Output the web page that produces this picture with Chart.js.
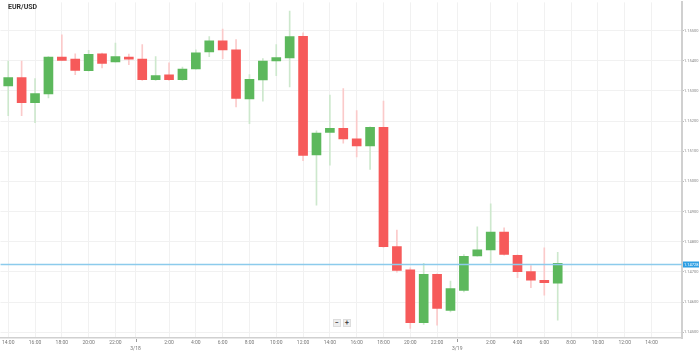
<!DOCTYPE html>
<html>
<head>
<meta charset="utf-8">
<script src="https://cdn.jsdelivr.net/npm/chart.js@4.4.1/dist/chart.umd.min.js"></script>
<style>
  html,body{margin:0;padding:0;background:#fff;}
  #wrap{position:relative;width:699px;height:352px;}
  #title{position:absolute;left:8px;top:3px;font:bold 7px Roboto,'DejaVu Sans',sans-serif;color:#333;}
  .zbtn{position:absolute;top:319px;width:8px;height:8px;background:#eee;border:1px solid #ddd;
        font:bold 7px Roboto,sans-serif;color:#444;text-align:center;line-height:7px;box-sizing:border-box;}
</style>
</head>
<body>
<div id="wrap">
  <canvas id="c" width="699" height="352"></canvas>
  <div id="title">EUR/USD</div>
  <div class="zbtn" style="left:333px">−</div>
  <div class="zbtn" style="left:343px">+</div>
</div>
<script>
// ── DATA (hourly candles from 14:00 3/17) ─────────────
const OPEN  = [1.15316,1.15344,1.15261,1.15290,1.15412,1.15405,1.15367,1.15423,1.15396,1.15412,1.15405,1.15337,1.15353,1.15337,1.15373,1.15429,1.15466,1.15436,1.15273,1.15336,1.15399,1.15409,1.15481,1.15088,1.15162,1.15176,1.15141,1.15118,1.15179,1.14784,1.14707,1.14532,1.14692,1.14573,1.14639,1.14753,1.14773,1.14832,1.14755,1.14701,1.14672,1.14663];
const CLOSE = [1.15344,1.15261,1.15291,1.15412,1.15401,1.15368,1.15421,1.15391,1.15414,1.15405,1.15337,1.15351,1.15337,1.15372,1.15426,1.15466,1.15436,1.15275,1.15338,1.15399,1.15410,1.15480,1.15086,1.15160,1.15176,1.15141,1.15118,1.15179,1.14784,1.14705,1.14532,1.14692,1.14579,1.14645,1.14752,1.14773,1.14832,1.14758,1.14701,1.14673,1.14665,1.14729];
const HIGH  = [1.15399,1.15399,1.15341,1.15414,1.15486,1.15423,1.15434,1.15425,1.15458,1.15422,1.15453,1.15414,1.15393,1.15379,1.15436,1.15480,1.15505,1.15470,1.15354,1.15407,1.15453,1.15564,1.15492,1.15168,1.15286,1.15308,1.15235,1.15181,1.15266,1.14839,1.14714,1.14729,1.14694,1.14670,1.14758,1.14850,1.14926,1.14846,1.14757,1.14721,1.14780,1.14765];
const LOW   = [1.15218,1.15218,1.15195,1.15277,1.15401,1.15354,1.15365,1.15376,1.15395,1.15387,1.15335,1.15335,1.15335,1.15335,1.15372,1.15413,1.15407,1.15247,1.15191,1.15266,1.15350,1.15313,1.15069,1.14921,1.15054,1.15127,1.15081,1.15040,1.14781,1.14699,1.14513,1.14526,1.14524,1.14568,1.14634,1.14752,1.14731,1.14756,1.14681,1.14648,1.14623,1.14540];
const CURRENT = 1.14728;

const X_TICKS  = [0,2,4,6,8,9.5,12,14,16,18,20,22,24,26,28,30,32,33.5,36,38,40,42,44,46,48];
const X_LABELS = ['14:00','16:00','18:00','20:00','22:00','3/18','2:00','4:00','6:00','8:00','10:00','12:00',
                  '14:00','16:00','18:00','20:00','22:00','3/19','2:00','4:00','6:00','8:00','10:00','12:00','14:00'];
const DATE_TICKS = ['3/18','3/19'];
const Y_TICKS  = [1.145,1.146,1.147,1.148,1.149,1.150,1.151,1.152,1.153,1.154,1.155];

const RED = '#f65a5a', GREEN = '#5cb85c';
const RED_W = '#fbcaca', GREEN_W = '#cde8cd';
const up = OPEN.map((o,i) => CLOSE[i] >= o);

const bodies = OPEN.map((o,i) => ({x:i, y:[o, CLOSE[i]]}));
const wicks  = OPEN.map((o,i) => ({x:i, y:[LOW[i], HIGH[i]]}));

// current price line + tag, date tick marks
const overlay = {
  id:'overlay',
  afterDatasetsDraw(chart){
    const {ctx, chartArea:a, scales:{x,y}} = chart;
    const py = Math.round(y.getPixelForValue(CURRENT)) + 0.5;
    ctx.save();
    ctx.strokeStyle = '#8ccbec'; ctx.lineWidth = 1.5;
    ctx.beginPath(); ctx.moveTo(a.left, py); ctx.lineTo(a.right, py); ctx.stroke();
    ctx.fillStyle = '#2f9fe3';
    ctx.fillRect(a.right + 1, py - 3, 16, 6);
    ctx.fillStyle = '#fff'; ctx.font = '4px Roboto, sans-serif';
    ctx.textBaseline = 'middle'; ctx.textAlign = 'left';
    ctx.fillText(CURRENT.toFixed(5), a.right + 2, py);
    ctx.strokeStyle = '#999'; ctx.lineWidth = 1;
    X_TICKS.forEach((t,k) => {
      if (!DATE_TICKS.includes(X_LABELS[k])) return;
      const px = Math.round(x.getPixelForValue(t)) + 0.5;
      ctx.beginPath(); ctx.moveTo(px, a.bottom + 1); ctx.lineTo(px, a.bottom + 4); ctx.stroke();
    });
    ctx.restore();
  }
};

new Chart(document.getElementById('c'), {
  type:'bar',
  data:{
    datasets:[
      { data:wicks, backgroundColor:up.map(u => u ? GREEN_W : RED_W), barThickness:1, order:2 },
      { data:bodies, backgroundColor:up.map(u => u ? GREEN : RED), barThickness:9, order:1 }
    ]
  },
  options:{
    responsive:false, animation:false,
    layout:{padding:0},
    plugins:{legend:{display:false}, tooltip:{enabled:false}},
    scales:{
      x:{
        type:'linear', min:-0.574, max:50.274, offset:false,
        afterBuildTicks: s => { s.ticks = X_TICKS.map(v => ({value:v})); },
        afterFit: s => { s.height = 14; },
        grid:{color:'#f1f1f1', drawTicks:false, offset:false},
        border:{display:true, color:'#d0d0d0', width:1.5},
        ticks:{
          padding:2, color:'#777', font:{size:5, family:'Roboto'}, maxRotation:0, autoSkip:false,
          callback:(v,k) => DATE_TICKS.includes(X_LABELS[k]) ? ['', X_LABELS[k]] : X_LABELS[k]
        }
      },
      y:{
        position:'right', min:1.144813, max:1.155931,
        afterBuildTicks: s => { s.ticks = Y_TICKS.map(v => ({value:v})); },
        afterFit: s => { s.width = 17; },
        grid:{color:'#f1f1f1', tickLength:2, tickColor:'#bbb'},
        border:{display:true, color:'#d0d0d0', width:2},
        ticks:{padding:0, color:'#888', font:{size:4, family:'Roboto'}, callback:v => v.toFixed(5)}
      }
    },
    datasets:{bar:{grouped:false}}
  },
  plugins:[overlay]
});
</script>
</body>
</html>
